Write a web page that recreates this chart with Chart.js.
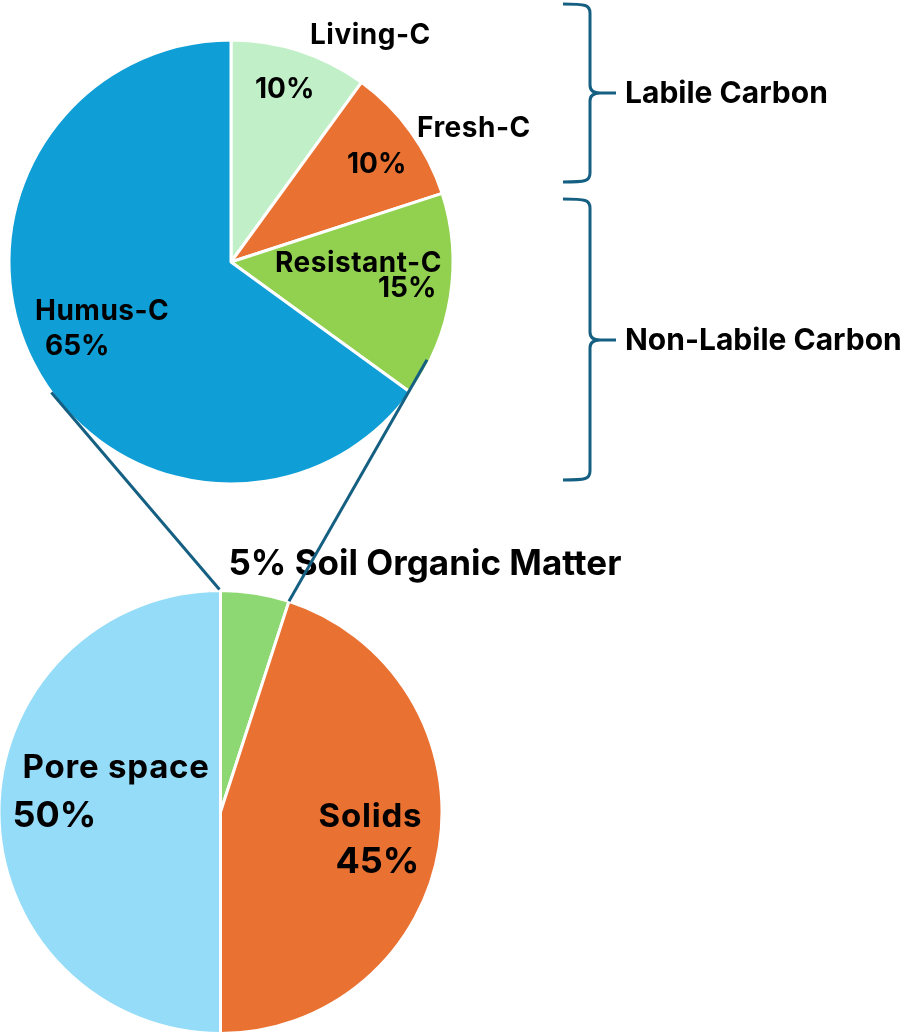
<!DOCTYPE html>
<html>
<head>
<meta charset="utf-8">
<script src="https://cdn.jsdelivr.net/npm/chart.js@4.4.1/dist/chart.umd.min.js"></script>
<style>
  html, body { margin: 0; padding: 0; background: #fff; }
  #wrap { position: relative; width: 903px; height: 1034px; overflow: hidden; }
  #wrap canvas { position: absolute; left: 0; top: 0; }
</style>
</head>
<body>
<div id="wrap">
  <canvas id="carbonPie" width="903" height="1034"></canvas>
  <canvas id="soilPie" width="903" height="1034"></canvas>
</div>
<script>
// data
const carbonLabels = ['Living-C', 'Fresh-C', 'Resistant-C', 'Humus-C'];
const carbonValues = [10, 10, 15, 65];
const carbonColors = ['#C1F0C8', '#E97132', '#92D050', '#0F9ED5'];

const soilLabels = ['Soil Organic Matter', 'Solids', 'Pore space'];
const soilValues = [5, 45, 50];
const soilColors = ['#8ED873', '#E97132', '#95DCF8'];

const groupLabels = ['Labile Carbon', 'Non-Labile Carbon'];

const FONT = 'Inter, "Open Sans", sans-serif';
const LINE = '#156082';

// label placement (offset from pie centre, text baseline-left)
const carbonText = [
  { name: [79, -218], pct: [24, -164] },
  { name: [186, -125], pct: [116, -89] },
  { name: [44, 10], pct: [147, 35] },
  { name: [-196, 58], pct: [-186, 93] }
];
const soilText = [
  { title: [8, -237] },
  { name: [98, 15], pct: [115, 61] },
  { name: [-198, -34], pct: [-208, 15] }
];

// draws name + percent for each slice
const sliceText = {
  id: 'sliceText',
  afterDatasetsDraw(chart, args, opts) {
    const ctx = chart.ctx;
    const arc = chart.getDatasetMeta(0).data[0];
    const cx = arc.x, cy = arc.y;
    const labels = chart.data.labels;
    const vals = chart.data.datasets[0].data;
    ctx.save();
    ctx.fillStyle = '#000';
    ctx.textAlign = 'left';
    ctx.textBaseline = 'alphabetic';
    opts.items.forEach((it, i) => {
      if (it.title) {
        ctx.letterSpacing = '0px';
        ctx.font = `bold ${opts.titleSize}px ${FONT}`;
        ctx.fillText(`${vals[i]}% ${labels[i]}`, cx + it.title[0], cy + it.title[1]);
        return;
      }
      ctx.letterSpacing = opts.nameSpacing;
      ctx.font = `bold ${opts.nameSize}px ${FONT}`;
      ctx.fillText(labels[i], cx + it.name[0], cy + it.name[1]);
      ctx.letterSpacing = '0px';
      ctx.font = `bold ${opts.pctSize}px ${FONT}`;
      ctx.fillText(`${vals[i]}%`, cx + it.pct[0], cy + it.pct[1]);
    });
    ctx.restore();
  }
};

const carbonChart = new Chart(document.getElementById('carbonPie'), {
  type: 'pie',
  data: {
    labels: carbonLabels,
    datasets: [{
      data: carbonValues,
      backgroundColor: carbonColors,
      borderColor: '#fff',
      borderWidth: 3
    }]
  },
  options: {
    responsive: false,
    animation: false,
    events: [],
    radius: 222,
    layout: { padding: { left: 11, top: 42, right: 452, bottom: 552 } },
    plugins: {
      legend: { display: false },
      tooltip: { enabled: false },
      sliceText: { items: carbonText, nameSize: 28, nameSpacing: '0.5px', pctSize: 28 }
    }
  },
  plugins: [sliceText]
});

// connector lines from the small slice up to the carbon pie, plus the braces
const extras = {
  id: 'extras',
  afterDatasetsDraw(chart) {
    const ctx = chart.ctx;
    const som = chart.getDatasetMeta(0).data[0];
    const humus = carbonChart.getDatasetMeta(0).data[3];
    const pt = (a, r, el) => [el.x + r * Math.cos(a), el.y + r * Math.sin(a)];

    ctx.save();
    ctx.strokeStyle = LINE;
    ctx.lineWidth = 3;
    ctx.lineCap = 'butt';

    // right line: SOM end edge -> Resistant/Humus boundary, a bit past it
    const a0 = pt(som.endAngle, som.outerRadius, som);
    const b0 = pt(humus.startAngle, humus.outerRadius - 2, humus);
    const ext = 1.15;
    ctx.beginPath();
    ctx.moveTo(a0[0], a0[1]);
    ctx.lineTo(a0[0] + (b0[0] - a0[0]) * ext, a0[1] + (b0[1] - a0[1]) * ext);
    ctx.stroke();

    // left line: SOM start edge -> left rim of carbon pie
    const a1 = pt(som.startAngle, som.outerRadius + 1, som);
    const b1 = pt((234 - 90) * Math.PI / 180, humus.outerRadius, humus);
    ctx.beginPath();
    ctx.moveTo(a1[0] - 1, a1[1]);
    ctx.lineTo(b1[0], b1[1]);
    ctx.stroke();

    // braces
    const xl = 563, xs = 590, xt = 616;
    const braces = [[4, 93, 182], [199, 340, 480]];
    braces.forEach(([y0, ym, y1], i) => {
      ctx.beginPath();
      ctx.moveTo(xl, y0);
      ctx.bezierCurveTo(xs - 4, y0, xs, y0 + 1, xs, y0 + 9);
      ctx.lineTo(xs, ym - 8);
      ctx.quadraticCurveTo(xs, ym, xs + 10, ym);
      ctx.lineTo(xt, ym);
      ctx.moveTo(xs + 10, ym);
      ctx.quadraticCurveTo(xs, ym, xs, ym + 8);
      ctx.lineTo(xs, y1 - 9);
      ctx.bezierCurveTo(xs, y1 - 1, xs - 4, y1, xl, y1);
      ctx.stroke();

      ctx.fillStyle = '#000';
      ctx.font = `bold 30px ${FONT}`;
      ctx.textAlign = 'left';
      ctx.textBaseline = 'alphabetic';
      ctx.fillText(groupLabels[i], xt + 9, ym + 10);
    });
    ctx.restore();
  }
};

const soilChart = new Chart(document.getElementById('soilPie'), {
  type: 'pie',
  data: {
    labels: soilLabels,
    datasets: [{
      data: soilValues,
      backgroundColor: soilColors,
      borderColor: '#fff',
      borderWidth: 3
    }]
  },
  options: {
    responsive: false,
    animation: false,
    events: [],
    radius: 221.5,
    layout: { padding: { left: 0, top: 592, right: 462, bottom: 2 } },
    plugins: {
      legend: { display: false },
      tooltip: { enabled: false },
      sliceText: { items: soilText, titleSize: 35, nameSize: 33, nameSpacing: '0.8px', pctSize: 36 }
    }
  },
  plugins: [sliceText, extras]
});
</script>
</body>
</html>
